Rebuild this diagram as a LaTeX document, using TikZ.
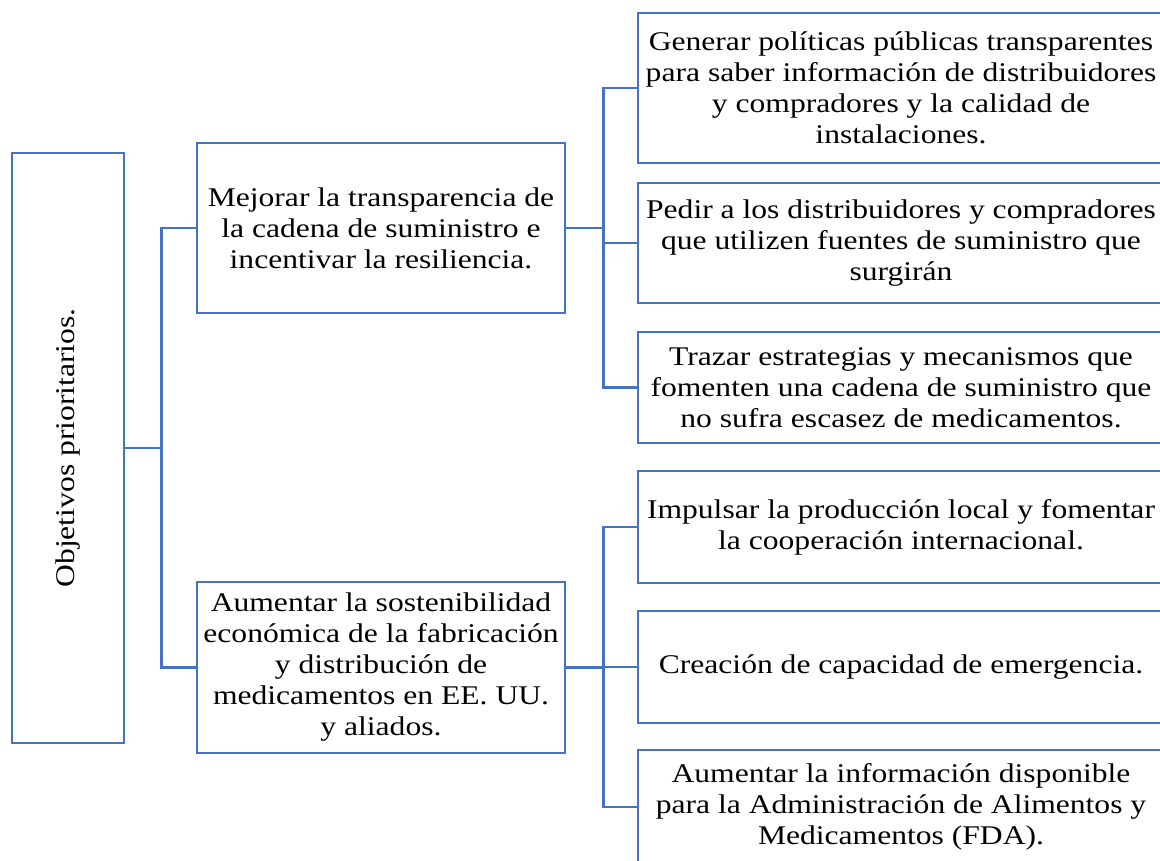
\documentclass[tikz,border=0pt]{standalone}
\usepackage{fontspec}
\setmainfont[FakeStretch=1.17]{Liberation Serif}
\definecolor{myblue}{RGB}{68,114,196}

\begin{document}
\begin{tikzpicture}[x=1pt, y=-1pt,
        box/.style={draw=myblue, line width=2.5pt, align=center, inner sep=2pt,
            font=\fontsize{27}{31}\selectfont},
        leafbox/.style={box, minimum width=526pt},
        midbox/.style={box, minimum width=368pt, minimum height=170pt},
        conn/.style={myblue, line width=2.5pt}]
        \def\W{1160}
        \def\H{861}

        % -- page frame: the leaf column runs off the right edge --
        \useasboundingbox (0,0) rectangle (\W,\H);
        \clip (0,0) rectangle (\W,\H);

        % -- root: rotated label box --
        \node[box, rotate=90, minimum width=590pt, minimum height=112pt]
            (root) at (68,448) {Objetivos prioritarios.};

        % -- second level --
        \node[midbox] (mejorar) at (381,228)
            {Mejorar la transparencia de\\la cadena de suministro e\\incentivar la resiliencia.};
        \node[midbox, minimum height=171pt] (aumentar) at (381,667.5)
            {Aumentar la sostenibilidad\\económica de la fabricación\\y distribución de\\medicamentos en EE.~UU.\\y aliados.};

        % -- leaves of the upper branch --
        \node[leafbox, minimum height=150pt] (generar) at (901,88)
            {Generar políticas públicas transparentes\\para saber información de distribuidores\\y compradores y la calidad de\\instalaciones.};
        \node[leafbox, minimum height=120pt] (pedir) at (901,243)
            {Pedir a los distribuidores y compradores\\que utilizen fuentes de suministro que\\surgirán};
        \node[leafbox, minimum height=111pt] (trazar) at (901,387.5)
            {Trazar estrategias y mecanismos que\\fomenten una cadena de suministro que\\no sufra escasez de medicamentos.};

        % -- leaves of the lower branch --
        \node[leafbox, minimum height=112pt] (impulsar) at (901,527)
            {Impulsar la producción local y fomentar\\la cooperación internacional.};
        \node[leafbox, minimum height=112pt] (creacion) at (901,667)
            {Creación de capacidad de emergencia.};
        \node[leafbox, minimum height=114pt] (informacion) at (901,807)
            {Aumentar la información disponible\\para la Administración de Alimentos y\\Medicamentos (FDA).};

        % -- elbow connectors --
        \foreach \m in {mejorar,aumentar}
            \draw[conn] (root.south) -- ++(36,0) |- (\m.west);
        \foreach \l in {generar,pedir,trazar}
            \draw[conn] (mejorar.east) -- ++(37,0) |- (\l.west);
        \foreach \l in {impulsar,creacion,informacion}
            \draw[conn] (aumentar.east) -- ++(37,0) |- (\l.west);

    \end{tikzpicture}
\end{document}
